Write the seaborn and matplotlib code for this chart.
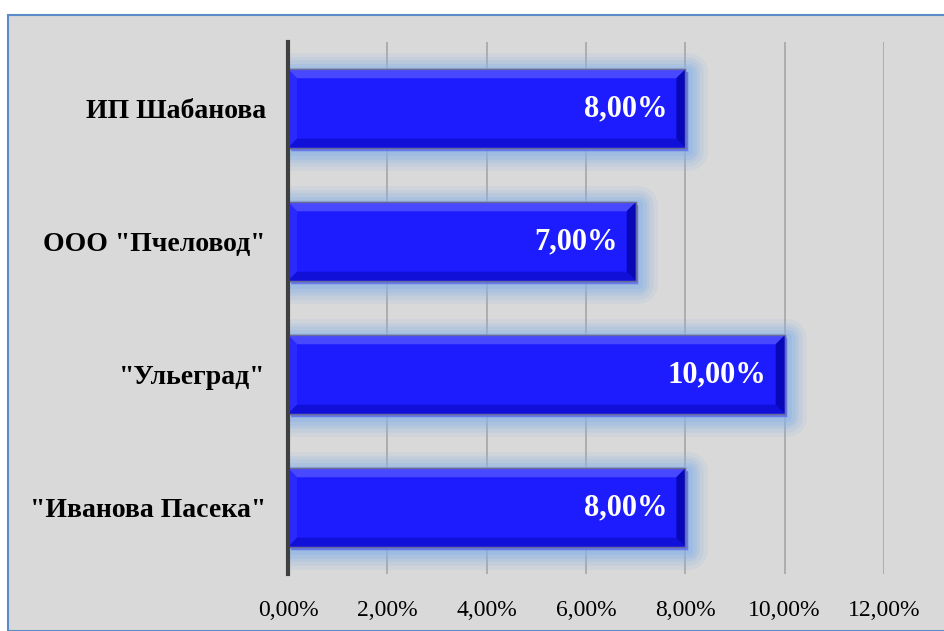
import matplotlib
matplotlib.use('Agg')
import matplotlib.pyplot as plt
import matplotlib.patheffects as pe
from matplotlib.patches import Rectangle, Polygon
from matplotlib.ticker import FuncFormatter, MultipleLocator
import seaborn as sns
import pandas as pd

companies = ['ИП Шабанова', 'ООО "Пчеловод"', '"Ульеград"', '"Иванова Пасека"']
shares = [8.0, 7.0, 10.0, 8.0]

df = pd.DataFrame({'company': companies, 'share': shares})

sns.set_style('white')
plt.rcParams['font.family'] = ['Liberation Serif', 'DejaVu Serif']
plt.rcParams['text.color'] = 'black'
plt.rcParams['xtick.color'] = 'black'
plt.rcParams['ytick.color'] = 'black'

fig = plt.figure(figsize=(9.44, 6.31), dpi=100, facecolor='white')
# grey chart area with blue frame
fig.patches.append(Rectangle((8 / 944, 0), 1, 1 - 15 / 631, transform=fig.transFigure,
                             facecolor='#d9d9d9', edgecolor='#5b8cc8', linewidth=1.5, zorder=-10))

ax = fig.add_axes([288 / 944, 57 / 631, 596 / 944, 532 / 631])
ax.set_facecolor('none')

sns.barplot(data=df, x='share', y='company', orient='h', color='#1c1cff', width=0.59,
            saturation=1, ax=ax, zorder=3)

ax.set_xlim(0, 12)
ax.set_ylim(3.5, -0.5)
ax.xaxis.set_major_locator(MultipleLocator(2))
ax.xaxis.set_major_formatter(FuncFormatter(lambda v, p: f'{v:.2f}'.replace('.', ',') + '%'))
ax.grid(axis='x', color='#a6a6a6', linewidth=1.2, zorder=0)
ax.grid(axis='y', visible=False)
ax.set_xlabel('')
ax.set_ylabel('')
for s in ['top', 'right', 'bottom']:
    ax.spines[s].set_visible(False)
ax.spines['left'].set_color('#404040')
ax.spines['left'].set_linewidth(3)
ax.spines['left'].set_zorder(6)
ax.tick_params(axis='x', length=0, labelsize=17, pad=19)
ax.tick_params(axis='y', length=0, labelsize=20, pad=16)
for lab in ax.get_yticklabels():
    lab.set_fontweight('bold')

# pixel -> data scale for bevel insets
px_x = 12 / 596
px_y = 4 / 532
ix, iy = 9 * px_x, 9 * px_y

for patch, val in zip(ax.patches, shares):
    patch.set_edgecolor('#6a6a9a')
    patch.set_linewidth(1)
    glow = []
    for lw, a in [(28, 0.12), (22, 0.16), (17, 0.22), (12, 0.3), (7, 0.4)]:
        glow.append(pe.Stroke(linewidth=lw, foreground='#8db3e6', alpha=a, offset=(2, -2),
                              joinstyle='round'))
    glow.append(pe.Normal())
    patch.set_path_effects(glow)
    x0, y0 = patch.get_x(), patch.get_y()
    w, h = patch.get_width(), patch.get_height()
    x1, y1 = x0 + w, y0 + h
    # bevels (y axis inverted: y0 is top)
    top = [(x0, y0), (x1, y0), (x1 - ix, y0 + iy), (x0 + ix, y0 + iy)]
    bottom = [(x0, y1), (x1, y1), (x1 - ix, y1 - iy), (x0 + ix, y1 - iy)]
    right = [(x1, y0), (x1, y1), (x1 - ix, y1 - iy), (x1 - ix, y0 + iy)]
    left = [(x0, y0), (x0, y1), (x0 + ix, y1 - iy), (x0 + ix, y0 + iy)]
    ax.add_patch(Polygon(top, closed=True, facecolor='#4848ff', edgecolor='none', zorder=4))
    ax.add_patch(Polygon(left, closed=True, facecolor='#2a2aff', edgecolor='none', zorder=4))
    ax.add_patch(Polygon(bottom, closed=True, facecolor='#1010d8', edgecolor='none', zorder=4))
    ax.add_patch(Polygon(right, closed=True, facecolor='#0808b8', edgecolor='none', zorder=4))
    ax.add_patch(Rectangle((x0, y0), w, h, facecolor='none', edgecolor='#6a6a9a',
                           linewidth=1, zorder=4))
    ax.text(x1 - 18 * px_x, y0 + h / 2, f'{val:.2f}'.replace('.', ',') + '%',
            ha='right', va='center', color='white', fontsize=22, fontweight='bold', zorder=5)

fig.savefig('out.png', dpi=100, facecolor='white')
